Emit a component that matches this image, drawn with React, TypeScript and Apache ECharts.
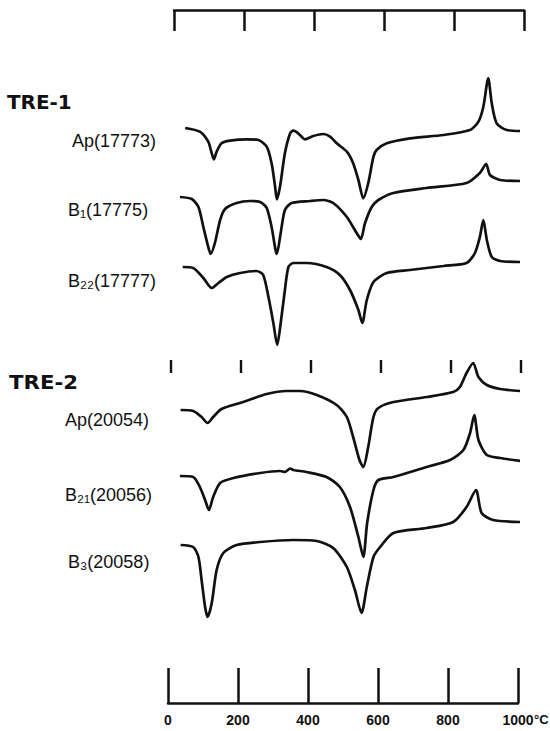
import React, { useEffect, useRef } from 'react';
import * as echarts from 'echarts';

// Temperature axis (°C)
const tempTicks = [0, 200, 400, 600, 800, 1000];
const groupTitles = ['TRE-1', 'TRE-2'];
const sampleLabels = ['Ap(17773)', 'B₁(17775)', 'B₂₂(17777)', 'Ap(20054)', 'B₂₁(20056)', 'B₃(20058)'];
// vertical baseline of each trace (arbitrary units)
const baselines = [603, 534, 464, 321, 255, 186];

// TRE-1 Ap(17773)
const t1 = [49, 91, 115, 125, 131, 139, 153, 177, 225, 258, 282, 296, 306, 311, 320, 334, 349, 358, 372, 391, 415, 444, 463, 482, 511, 529, 544, 558, 572, 587, 596, 625, 691, 787, 863, 887, 901, 915, 925, 939, 968, 1015];
const d1 = [0, -3.7, -13.7, -25.3, -31.3, -23.7, -15.3, -12.7, -11.3, -12, -18.7, -35.3, -58.7, -71.3, -58.7, -25.3, -5.3, -2.7, -5.3, -11.3, -8, -6, -8.7, -15.3, -23.7, -35.3, -52, -70.3, -55.3, -28.7, -22, -15.3, -10.3, -7, -2, 6.3, 21.3, 49.7, 24.7, 4.7, -2, -3];
// TRE-1 B1(17775)
const t2 = [34, 68, 87, 101, 115, 122, 134, 149, 163, 196, 234, 263, 282, 296, 311, 322, 334, 353, 406, 444, 472, 511, 539, 551, 563, 582, 601, 644, 739, 853, 891, 909, 920, 949, 1015];
const d2 = [0, -2, -10, -30, -50, -57, -46, -23, -12, -6, -4, -5, -11, -30, -57, -36, -13, -6, -4, -3, -6, -20, -36, -42, -26, -10, -3, 4, 9, 14, 24, 33, 22, 17, 16];
// TRE-1 B22(17777)
const t3 = [42, 72, 101, 125, 144, 168, 206, 253, 272, 287, 301, 312, 322, 334, 344, 358, 396, 453, 491, 520, 544, 555, 568, 587, 625, 691, 787, 853, 877, 891, 901, 911, 925, 949, 1006];
const d3 = [0, -1, -11, -21, -16, -10, -6, -4, -8, -30, -56, -78, -56, -23, 0, 4, 4, 0, -8, -23, -43, -56, -33, -15, -6, -3, 1, 4, 14, 30, 47, 27, 10, 6, 5];
// TRE-2 Ap(20054)
const t4 = [36, 72, 96, 113, 129, 153, 215, 282, 339, 377, 425, 482, 511, 529, 547, 558, 572, 587, 601, 644, 739, 815, 834, 853, 872, 887, 911, 949, 1006];
const d4 = [0, -1, -7, -13, -7, 1, 8, 16, 19, 19, 15, 5, -7, -27, -50, -57, -37, -7, 2, 8, 13, 18, 23, 37, 47, 33, 25, 21, 19];
// TRE-2 B21(20056)
const t5 = [34, 72, 91, 106, 117, 129, 149, 187, 263, 320, 334, 349, 358, 396, 453, 491, 520, 544, 558, 569, 587, 601, 644, 739, 806, 844, 863, 875, 887, 911, 949, 1006];
const d5 = [0, -1, -11, -24, -34, -21, -7, -2, 3, 5, 4, 7.5, 6, 4, -1, -11, -31, -61, -81, -47, -14, -4, -1, 9, 16, 26, 43, 61, 36, 21, 18, 15];
// TRE-2 B3(20058)
const t6 = [36, 72, 87, 96, 106, 113, 125, 139, 158, 196, 263, 358, 425, 472, 511, 534, 553, 568, 587, 606, 644, 739, 815, 853, 880, 896, 929, 1006];
const d6 = [0, -2, -12, -35, -62, -72, -58, -25, -8, 0, 3, 5, 4, -3, -22, -45, -68, -42, -12, -2, 12, 17, 23, 38, 55, 32, 25, 23];

const temps = [t1, t2, t3, t4, t5, t6];
const deltas = [d1, d2, d3, d4, d5, d6];

const labelPos = [
  [72, 141], [68, 210], [68, 281], [65, 420], [65, 495], [68, 562],
];

export default function App() {
  const ref = useRef<HTMLDivElement>(null);
  useEffect(() => {
    if (!ref.current) return;
    const chart = echarts.init(ref.current, null, { renderer: 'svg' });
    const black = '#111';
    const series: any[] = temps.map((ts, k) => ({
      type: 'line',
      xAxisIndex: 0,
      yAxisIndex: 0,
      name: sampleLabels[k],
      data: ts.map((t, i) => [t, baselines[k] + deltas[k][i]]),
      showSymbol: false,
      smooth: 0.25,
      clip: false,
      lineStyle: { color: black, width: 2.7 },
      silent: true,
    }));
    const graphic: any[] = [];
    sampleLabels.forEach((s, k) => {
      graphic.push({
        type: 'text', x: labelPos[k][0], y: labelPos[k][1],
        style: { text: s, fill: black, font: '18px "Liberation Sans", Arial, sans-serif', verticalAlign: 'middle', textAlign: 'left' },
      });
    });
    graphic.push({
      type: 'text', x: 7, y: 103, scaleX: 1.05,
      style: { text: groupTitles[0], fill: black, font: 'bold 19px "DejaVu Sans", sans-serif', verticalAlign: 'middle' },
    });
    graphic.push({
      type: 'text', x: 9, y: 382, scaleX: 1.12,
      style: { text: groupTitles[1], fill: black, font: 'bold 19px "DejaVu Sans", sans-serif', verticalAlign: 'middle' },
    });
    graphic.push({
      type: 'text', x: 534, y: 719,
      style: { text: '°C', fill: black, font: 'bold 13px "Liberation Sans", Arial, sans-serif', verticalAlign: 'middle' },
    });

    const baseX = { type: 'value', min: tempTicks[0], max: tempTicks[tempTicks.length - 1], interval: 200, splitLine: { show: false } };
    chart.setOption({
      animation: false,
      backgroundColor: '#fff',
      grid: [
        { left: 168, width: 350, top: 0, height: 731, outerBoundsMode: 'none' },
        { left: 174, width: 350, top: 10, height: 21, outerBoundsMode: 'none' },
        { left: 171, width: 350, top: 360, height: 13, outerBoundsMode: 'none' },
        { left: 168, width: 350, top: 668, height: 35, outerBoundsMode: 'none' },
      ],
      xAxis: [
        { ...baseX, gridIndex: 0, show: false },
        {
          ...baseX, gridIndex: 1, position: 'top',
          axisLine: { show: true, onZero: false, lineStyle: { color: black, width: 2.5 } },
          axisTick: { show: true, inside: true, length: 21, lineStyle: { color: black, width: 2.5 } },
          axisLabel: { show: false },
        },
        {
          ...baseX, gridIndex: 2, position: 'top',
          axisLine: { show: false, onZero: false },
          axisTick: { show: true, inside: true, length: 13, lineStyle: { color: black, width: 2.4 } },
          axisLabel: { show: false },
        },
        {
          ...baseX, gridIndex: 3, position: 'bottom',
          axisLine: { show: true, onZero: false, lineStyle: { color: black, width: 2.5 } },
          axisTick: { show: true, inside: true, length: 35, lineStyle: { color: black, width: 2.5 } },
          axisLabel: {
            show: true, margin: 10, color: black, fontSize: 14, fontWeight: 'bold',
            fontFamily: '"Liberation Sans", Arial, sans-serif',
            formatter: (v: number) => String(v),
          },
        },
      ],
      yAxis: [
        { type: 'value', gridIndex: 0, min: 0, max: 731, show: false, splitLine: { show: false } },
        { type: 'value', gridIndex: 1, min: 0, max: 1, show: false, splitLine: { show: false } },
        { type: 'value', gridIndex: 2, min: 0, max: 1, show: false, splitLine: { show: false } },
        { type: 'value', gridIndex: 3, min: 0, max: 1, show: false, splitLine: { show: false } },
      ],
      series,
      graphic,
    });
    return () => chart.dispose();
  }, []);
  return <div ref={ref} style={{ position: 'absolute', left: 0, top: 0, width: 550, height: 731 }} />;
}
